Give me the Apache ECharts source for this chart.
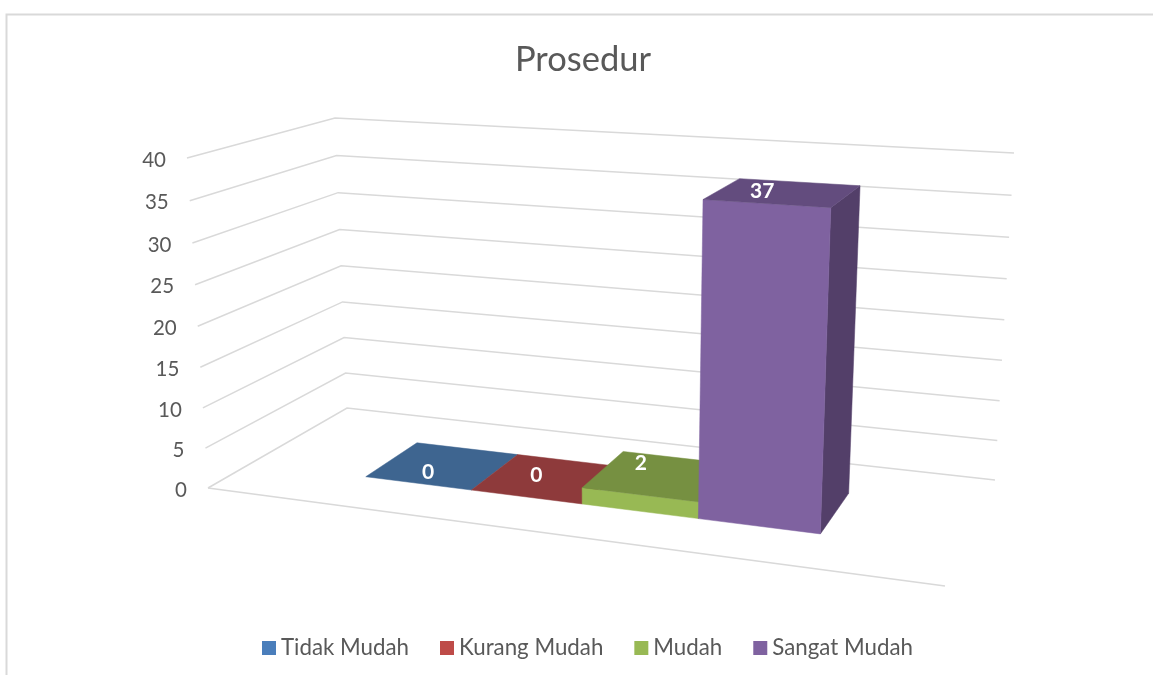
<!DOCTYPE html>
<html><head><meta charset="utf-8">
<style>html,body{margin:0;padding:0;background:#fff}#c{width:1153px;height:675px}</style>
<script src="https://cdn.jsdelivr.net/npm/echarts@6/dist/echarts.min.js"></script>
</head><body><div id="c"></div>
<script>
const chartTitle = 'Prosedur';
const categories = ['Tidak Mudah', 'Kurang Mudah', 'Mudah', 'Sangat Mudah'];
const values = [0, 0, 2, 37];
const yTicks = [0, 5, 10, 15, 20, 25, 30, 35, 40];

const legendColors = ['#4A7EBB', '#BE4B48', '#98B954', '#7F62A0'];
const topColors = ['#3E6590', '#8E3A3B', '#769041', '#634C7E'];
const sideColors = ['#33547A', '#763030', '#617736', '#533F69'];
const labelOffsets = [[0.46, 0.28], [0.37, 0.54], [0.25, 0.75], [0.33, 0.50]];
const FONT = 'Lato, "Open Sans", sans-serif';
const TEXT = '#595959';
const LINE = '#D9D9D9';

// Scene camera: floor and ceiling quadrilaterals of the 3D box
const floorQuad = [[208, 488], [945, 586], [995, 480], [347, 408]];
const ceilQuad = [[187, 158], [963, 206], [1014, 153], [335, 118]];
const uRange = [0.181, 0.824];
const dRange = [0.29, 0.695];
const vPerspective = 1.04;

function squareToQuad(q) {
  const [p0, p1, p2, p3] = q;
  const dx1 = p1[0] - p2[0], dx2 = p3[0] - p2[0], sx = p0[0] - p1[0] + p2[0] - p3[0];
  const dy1 = p1[1] - p2[1], dy2 = p3[1] - p2[1], sy = p0[1] - p1[1] + p2[1] - p3[1];
  const den = dx1 * dy2 - dx2 * dy1;
  const g = (sx * dy2 - dx2 * sy) / den, h = (dx1 * sy - sx * dy1) / den;
  const a = p1[0] - p0[0] + g * p1[0], b = p3[0] - p0[0] + h * p3[0];
  const d = p1[1] - p0[1] + g * p1[1], e = p3[1] - p0[1] + h * p3[1];
  return (u, w) => {
    const z = g * u + h * w + 1;
    return [(a * u + b * w + p0[0]) / z, (d * u + e * w + p0[1]) / z];
  };
}
const floorH = squareToQuad(floorQuad), ceilH = squareToQuad(ceilQuad);
function project(u, w, t) {
  const f = floorH(u, w), c = ceilH(u, w);
  const s = t / (t + (1 - t) * vPerspective);
  return [f[0] + (c[0] - f[0]) * s, f[1] + (c[1] - f[1]) * s];
}
function heightFraction(api, params, v) {
  const y = api.coord([0, v])[1];
  return (params.coordSys.y + params.coordSys.height - y) / params.coordSys.height;
}
const poly = (points, fill) => ({ type: 'polygon', shape: { points }, style: { fill, stroke: fill, lineWidth: 0.5 } });

function renderBar(idx) {
  return function (params, api) {
    const cs = params.coordSys;
    const band = api.size([1, 0])[0];
    const cx = api.coord([api.value(0), 0])[0];
    const toU = x => uRange[0] + (x - cs.x) / cs.width * (uRange[1] - uRange[0]);
    const u0 = toU(cx - band / 2), u1 = toU(cx + band / 2);
    const v = api.value(1);
    const t = heightFraction(api, params, v);
    const [d0, d1] = dRange;
    const fl0 = project(u0, d0, 0), fr0 = project(u1, d0, 0), br0 = project(u1, d1, 0);
    const fl = project(u0, d0, t), fr = project(u1, d0, t), br = project(u1, d1, t), bl = project(u0, d1, t);
    const children = [];
    if (v > 0) {
      children.push(poly([fr0, br0, br, fr], sideColors[idx]));
      children.push(poly([fl0, fr0, fr, fl], legendColors[idx]));
    }
    children.push(poly([fl, fr, br, bl], topColors[idx]));
    const o = labelOffsets[idx];
    const lp = project(u0 + (u1 - u0) * o[0], d0 + (d1 - d0) * o[1], t);
    children.push({ type: 'text', x: lp[0], y: lp[1], style: { text: String(v), fill: '#fff', font: 'bold 21px ' + FONT, align: 'center', verticalAlign: 'middle' } });
    return { type: 'group', children };
  };
}
function renderGrid(params, api) {
  const v = api.value(1);
  const t = heightFraction(api, params, v);
  const fl = project(0, 0, t), bl = project(0, 1, t), br = project(1, 1, t);
  const lineStyle = { stroke: LINE, lineWidth: 1.5, fill: null };
  const children = [
    { type: 'polyline', shape: { points: [fl, bl, br] }, style: lineStyle },
    { type: 'text', x: fl[0] - 21, y: fl[1] + 2, style: { text: String(v), fill: TEXT, font: '20.5px ' + FONT, align: 'right', verticalAlign: 'middle' } }
  ];
  if (v === 0) children.push({ type: 'line', shape: { x1: fl[0], y1: fl[1], x2: project(1, 0, 0)[0], y2: project(1, 0, 0)[1] }, style: lineStyle });
  return { type: 'group', children };
}

const chart = echarts.init(document.getElementById('c'), null, { renderer: 'canvas' });
chart.setOption({
  animation: false,
  backgroundColor: '#fff',
  textStyle: { fontFamily: FONT },
  title: { text: chartTitle, left: 578, top: 37, textAlign: 'center', textStyle: { fontSize: 34.5, fontWeight: 'normal', color: TEXT, fontFamily: FONT } },
  legend: {
    data: categories, left: 262, top: 637, padding: 0, icon: 'rect', itemWidth: 14, itemHeight: 14, itemGap: 31,
    textStyle: { fontSize: 22.3, color: TEXT, fontFamily: FONT }
  },
  grid: { left: 200, right: 200, top: 150, bottom: 180 },
  xAxis: { type: 'category', data: categories, show: false },
  yAxis: { type: 'value', min: 0, max: 40, interval: 5, show: false },
  graphic: [{ type: 'rect', silent: true, z: -1, shape: { x: 6.5, y: 14.5, width: 1300, height: 800 }, style: { fill: null, stroke: '#D9D9D9', lineWidth: 2 } }],
  series: [
    { type: 'custom', name: 'grid', silent: true, z: 1, renderItem: renderGrid, data: yTicks.map(v => [0, v]) }
  ].concat(categories.map((name, i) => ({
    type: 'custom', name, z: 2 + i, silent: true,
    itemStyle: { color: legendColors[i] },
    renderItem: renderBar(i),
    data: [[i, values[i]]]
  })))
});
</script></body></html>
